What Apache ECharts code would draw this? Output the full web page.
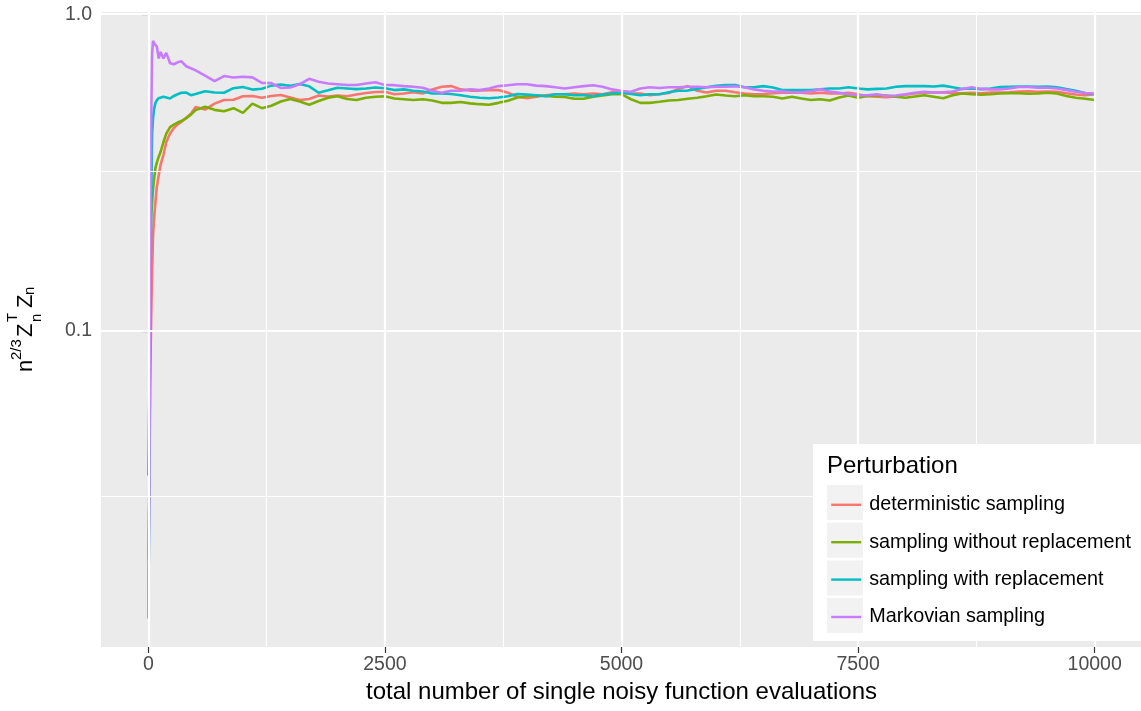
<!DOCTYPE html>
<html>
<head>
<meta charset="utf-8">
<script src="https://cdn.jsdelivr.net/npm/echarts@6/dist/echarts.min.js"></script>
<style>
html,body{margin:0;padding:0;background:#fff;}
#chart{width:1141px;height:711px;}
</style>
</head>
<body>
<div id="chart"></div>
<script>
// x positions (total number of single noisy function evaluations)
var xs = [0, 10, 20, 30, 40, 50, 60, 75, 90, 110, 130, 160, 190, 230, 270, 310, 350, 400, 450, 500,
  600, 700, 800, 900, 1000, 1100, 1200, 1300, 1400, 1500, 1600, 1700, 1800, 1900, 2000, 2100, 2200, 2300, 2400,
  2500, 2600, 2700, 2800, 2900, 3000, 3100, 3200, 3300, 3400, 3500, 3600, 3700, 3800, 3900, 4000, 4100, 4200, 4300, 4400, 4500, 4600, 4700, 4800, 4900, 5000, 5100,
  5200, 5300, 5400, 5500, 5600, 5700, 5800, 5900, 6000, 6100, 6200, 6300, 6400, 6500, 6600, 6700, 6800, 6900, 7000, 7100, 7200, 7300, 7400, 7500, 7600, 7700,
  7800, 7900, 8000, 8100, 8200, 8300, 8400, 8500, 8600, 8700, 8800, 8900, 9000, 9100, 9200, 9300, 9400, 9500, 9600, 9700, 9800, 9900, 10000];

var deterministic = [0.019, 0.03, 0.07, 0.11, 0.155, 0.20, 0.225, 0.255, 0.285, 0.31, 0.335, 0.36, 0.395, 0.42, 0.437, 0.449, 0.458, 0.47, 0.485, 0.509,
  0.50, 0.522, 0.536, 0.537, 0.551, 0.552, 0.545, 0.552, 0.556, 0.546, 0.536, 0.540, 0.554, 0.550, 0.554, 0.551, 0.558, 0.564, 0.568,
  0.569, 0.559, 0.562, 0.567, 0.562, 0.579, 0.590, 0.593, 0.579, 0.574, 0.574, 0.576, 0.576, 0.565, 0.549, 0.543, 0.549, 0.555, 0.559, 0.559, 0.562, 0.559, 0.562, 0.559, 0.567, 0.566, 0.562,
  0.562, 0.555, 0.559, 0.564, 0.581, 0.593, 0.573, 0.566, 0.573, 0.573, 0.567, 0.562, 0.559, 0.560, 0.563, 0.565, 0.565, 0.565, 0.562, 0.565, 0.562, 0.562, 0.565, 0.559, 0.551, 0.549,
  0.547, 0.550, 0.557, 0.562, 0.565, 0.566, 0.567, 0.563, 0.563, 0.565, 0.563, 0.566, 0.566, 0.567, 0.570, 0.571, 0.569, 0.570, 0.569, 0.563, 0.558, 0.555, 0.559];

var withoutReplacement = [0.035, 0.06, 0.18, 0.23, 0.255, 0.28, 0.30, 0.327, 0.34, 0.355, 0.368, 0.395, 0.42, 0.44, 0.448, 0.455, 0.46, 0.47, 0.482, 0.498,
  0.51, 0.499, 0.494, 0.505, 0.488, 0.522, 0.505, 0.514, 0.53, 0.54, 0.53, 0.518, 0.532, 0.545, 0.551, 0.54, 0.536, 0.545, 0.549,
  0.551, 0.542, 0.539, 0.536, 0.539, 0.534, 0.525, 0.525, 0.528, 0.523, 0.520, 0.518, 0.525, 0.533, 0.546, 0.551, 0.554, 0.552, 0.549, 0.548, 0.541, 0.541, 0.549, 0.554, 0.559, 0.559, 0.539,
  0.525, 0.525, 0.529, 0.534, 0.536, 0.541, 0.545, 0.551, 0.558, 0.554, 0.551, 0.555, 0.551, 0.551, 0.549, 0.542, 0.549, 0.542, 0.536, 0.539, 0.534, 0.546, 0.554, 0.545, 0.552, 0.555,
  0.554, 0.549, 0.545, 0.550, 0.555, 0.549, 0.543, 0.555, 0.562, 0.559, 0.557, 0.559, 0.562, 0.563, 0.563, 0.561, 0.562, 0.565, 0.562, 0.552, 0.545, 0.541, 0.536];

var withReplacement = [0.0124, 0.03, 0.1, 0.25, 0.42, 0.47, 0.50, 0.524, 0.535, 0.543, 0.546, 0.549, 0.546, 0.542, 0.552, 0.559, 0.565, 0.566, 0.555, 0.56,
  0.571, 0.566, 0.565, 0.584, 0.589, 0.578, 0.582, 0.595, 0.600, 0.594, 0.602, 0.592, 0.565, 0.575, 0.586, 0.583, 0.580, 0.583, 0.587,
  0.584, 0.576, 0.579, 0.573, 0.570, 0.562, 0.562, 0.560, 0.555, 0.549, 0.545, 0.543, 0.546, 0.551, 0.560, 0.558, 0.555, 0.551, 0.559, 0.559, 0.555, 0.555, 0.551, 0.558, 0.562, 0.565, 0.560,
  0.555, 0.559, 0.559, 0.567, 0.573, 0.574, 0.581, 0.588, 0.594, 0.598, 0.598, 0.588, 0.588, 0.593, 0.587, 0.576, 0.576, 0.576, 0.576, 0.579, 0.583, 0.583, 0.588, 0.583, 0.579, 0.581,
  0.583, 0.590, 0.593, 0.593, 0.593, 0.591, 0.595, 0.588, 0.581, 0.583, 0.580, 0.583, 0.589, 0.590, 0.591, 0.591, 0.590, 0.591, 0.588, 0.580, 0.573, 0.564, 0.559];

var markovian = [0.0124, 0.03, 0.15, 0.45, 0.75, 0.824, 0.81, 0.80, 0.79, 0.725, 0.76, 0.725, 0.755, 0.70, 0.695, 0.705, 0.71, 0.685, 0.675, 0.665,
  0.64, 0.615, 0.638, 0.631, 0.635, 0.632, 0.607, 0.606, 0.585, 0.587, 0.601, 0.625, 0.612, 0.604, 0.601, 0.598, 0.598, 0.604, 0.61,
  0.598, 0.597, 0.593, 0.590, 0.586, 0.573, 0.565, 0.573, 0.573, 0.579, 0.576, 0.583, 0.593, 0.597, 0.601, 0.601, 0.595, 0.593, 0.588, 0.583, 0.588, 0.593, 0.597, 0.590, 0.579, 0.572, 0.569,
  0.583, 0.588, 0.585, 0.588, 0.588, 0.590, 0.590, 0.588, 0.590, 0.590, 0.592, 0.588, 0.579, 0.573, 0.570, 0.570, 0.567, 0.567, 0.571, 0.579, 0.570, 0.565, 0.559, 0.555, 0.555, 0.559,
  0.552, 0.554, 0.559, 0.565, 0.569, 0.566, 0.567, 0.570, 0.581, 0.588, 0.581, 0.579, 0.579, 0.583, 0.589, 0.589, 0.586, 0.586, 0.583, 0.576, 0.569, 0.564, 0.562];

var seriesNames = ['deterministic sampling', 'sampling without replacement', 'sampling with replacement', 'Markovian sampling'];
var seriesValues = [deterministic, withoutReplacement, withReplacement, markovian];
var seriesColors = ['#F8766D', '#7CAE00', '#00BFC4', '#C77CFF'];

var xTicks = [0, 2500, 5000, 7500, 10000];
var xMinorGrid = [1250, 3750, 6250, 8750];
var yTicks = [0.1, 1];
var yMinorGrid = [0.0316228, 0.316228];

var FONT = '"Liberation Sans", Arial, Helvetica, sans-serif';

function pairs(vals) {
  var out = [];
  for (var i = 0; i < xs.length; i++) out.push([xs[i], vals[i]]);
  return out;
}

var series = [];
// gridlines (drawn through the axes scales)
var gridData = [];
xTicks.forEach(function (v) { gridData.push({ xAxis: v, lineStyle: { width: 2.2 } }); });
xMinorGrid.forEach(function (v) { gridData.push({ xAxis: v, lineStyle: { width: 1.1 } }); });
yTicks.forEach(function (v) { gridData.push({ yAxis: v, lineStyle: { width: 2.2 } }); });
yMinorGrid.forEach(function (v) { gridData.push({ yAxis: v, lineStyle: { width: 1.1 } }); });
series.push({
  name: '_grid', type: 'line', data: [], z: 1, silent: true,
  markLine: {
    silent: true, symbol: ['none', 'none'], animation: false,
    label: { show: false },
    lineStyle: { color: '#FFFFFF', type: 'solid', width: 1.1 },
    emphasis: { disabled: true },
    data: gridData
  }
});
for (var s = 0; s < seriesNames.length; s++) {
  series.push({
    name: seriesNames[s], type: 'line', data: pairs(seriesValues[s]),
    symbol: 'none', showSymbol: false, smooth: false, z: 2 + s * 0.01,
    lineStyle: { color: seriesColors[s], width: 2.6 },
    itemStyle: { color: seriesColors[s] },
    emphasis: { disabled: true },
    animation: false
  });
}

var legendKeyTops = [485, 522.7, 560.4, 598.1];
var graphics = [
  { type: 'rect', z: 10, shape: { x: 813, y: 444, width: 330, height: 197 }, style: { fill: '#FFFFFF' }, silent: true },
  { type: 'text', z: 11, style: { text: 'Perturbation', x: 827, y: 466, font: '24px ' + FONT, fill: '#000000', verticalAlign: 'middle', align: 'left' }, silent: true }
];
legendKeyTops.forEach(function (t) {
  graphics.push({ type: 'rect', z: 11, shape: { x: 827, y: t, width: 36, height: 35 }, style: { fill: '#F2F2F2' }, silent: true });
});
// y-axis title: n^{2/3} Z_n^T Z_n
var big = 22, small = 15, mid = 0.31;
graphics.push({
  type: 'group', x: 33, y: 372, rotation: Math.PI / 2, z: 11, silent: true,
  children: [
    { type: 'text', style: { text: 'n', x: 0, y: -mid * big, font: big + 'px ' + FONT, fill: '#000', verticalAlign: 'middle' } },
    { type: 'text', style: { text: '2/3', x: 12, y: -11 - mid * small, font: small + 'px ' + FONT, fill: '#000', verticalAlign: 'middle' } },
    { type: 'text', style: { text: 'Z', x: 35, y: -mid * big, font: big + 'px ' + FONT, fill: '#000', verticalAlign: 'middle' } },
    { type: 'text', style: { text: 'T', x: 50, y: -15 - mid * small, font: small + 'px ' + FONT, fill: '#000', verticalAlign: 'middle' } },
    { type: 'text', style: { text: 'n', x: 50, y: 9 - mid * small, font: small + 'px ' + FONT, fill: '#000', verticalAlign: 'middle' } },
    { type: 'text', style: { text: 'Z', x: 64, y: -mid * big, font: big + 'px ' + FONT, fill: '#000', verticalAlign: 'middle' } },
    { type: 'text', style: { text: 'n', x: 77, y: 2 - mid * small, font: small + 'px ' + FONT, fill: '#000', verticalAlign: 'middle' } }
  ]
});

var option = {
  backgroundColor: '#FFFFFF',
  animation: false,
  textStyle: { fontFamily: FONT },
  grid: {
    left: 101, top: 12, width: 1041, height: 635,
    show: true, backgroundColor: '#EBEBEB', borderWidth: 0,
    containLabel: false, outerBoundsMode: 'none'
  },
  xAxis: {
    type: 'value', min: -500, max: 10500,
    name: 'total number of single noisy function evaluations',
    nameLocation: 'middle', nameGap: 32,
    nameTextStyle: { fontSize: 24, color: '#000000', fontFamily: FONT },
    axisLine: { show: false },
    axisTick: { show: true, length: 6, lineStyle: { color: '#333333', width: 1.2 }, customValues: xTicks },
    axisLabel: { show: true, fontSize: 19.5, color: '#4D4D4D', margin: 8, fontFamily: FONT, customValues: xTicks,
      formatter: function (v) { return String(v); } },
    splitLine: { show: false }
  },
  yAxis: {
    type: 'log', logBase: 10, min: 0.010066, max: 1.016,
    axisLine: { show: false },
    axisTick: { show: true, length: 6, lineStyle: { color: '#333333', width: 1.2 }, customValues: yTicks },
    axisLabel: { show: true, fontSize: 19.5, color: '#4D4D4D', margin: 9, fontFamily: FONT, customValues: yTicks,
      formatter: function (v) { return Math.abs(v - 1) < 1e-6 ? '1.0' : (Math.abs(v - 0.1) < 1e-7 ? '0.1' : ''); } },
    splitLine: { show: false }
  },
  legend: {
    data: seriesNames, orient: 'vertical', left: 830, top: 490.8, padding: 0,
    itemWidth: 30, itemHeight: 35, itemGap: 9.4, z: 12, selectedMode: false,
    itemStyle: { opacity: 0 },
    lineStyle: { width: 2.4, opacity: 1 },
    textStyle: { fontSize: 19.8, color: '#000000', fontFamily: FONT, padding: [0, 0, 0, 3] }
  },
  graphic: graphics,
  series: series
};

var chart = echarts.init(document.getElementById('chart'), null, { renderer: 'canvas' });
chart.setOption(option);
</script>
</body>
</html>
